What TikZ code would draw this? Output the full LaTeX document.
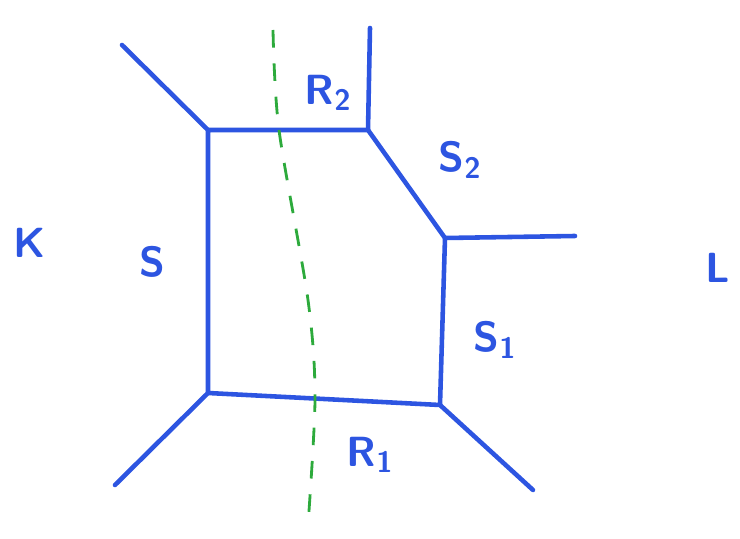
\documentclass[tikz,border=0pt]{standalone}
\usepackage{amsmath}
\usepackage{tikz}

\definecolor{penblue}{RGB}{45,85,225}
\definecolor{pengreen}{RGB}{45,170,60}

\begin{document}
\begin{tikzpicture}[
    edge/.style={penblue,line width=2.6pt,line cap=round,line join=round},
    cut/.style={pengreen,line width=1.6pt,dash pattern=on 10pt off 9pt},
    lab/.style={penblue,font=\sffamily\bfseries\fontsize{24}{28}\selectfont}]

% Fix the page size
\useasboundingbox (0,0) rectangle (14.8,10.76);

% Corners of the face
\coordinate (A) at (4.16,8.16);
\coordinate (B) at (7.36,8.16);
\coordinate (C) at (8.90,6.00);
\coordinate (D) at (8.80,2.66);
\coordinate (E) at (4.16,2.90);

% Ends of the outer legs
\coordinate (Aout) at (2.44,9.86);
\coordinate (Bout) at (7.40,10.20);
\coordinate (Cout) at (11.50,6.04);
\coordinate (Dout) at (10.66,0.96);
\coordinate (Eout) at (2.30,1.06);

% Draw the face
\draw[edge] (A) -- (B) -- (C) -- (D) -- (E) -- cycle;

% Draw the legs
\foreach \v in {A,B,C,D,E}
    \draw[edge] (\v) -- (\v out);

% Draw the cut
\draw[cut] plot[smooth] coordinates {(5.46,10.16) (5.58,8.16) (6.16,4.76) (6.30,2.80) (6.16,0.26)};

% Add the labels
\node[lab] (K) at (0.60,5.90) {K};
\node[lab] (S) at (3.04,5.52) {S};
\node[lab] (R2) at (6.56,8.90) {R\textsubscript{2}};
\node[lab] (S2) at (9.20,7.56) {S\textsubscript{2}};
\node[lab] (L) at (14.36,5.40) {L};
\node[lab] (S1) at (9.90,3.96) {S\textsubscript{1}};
\node[lab] (R1) at (7.40,1.66) {R\textsubscript{1}};

\end{tikzpicture}
\end{document}
